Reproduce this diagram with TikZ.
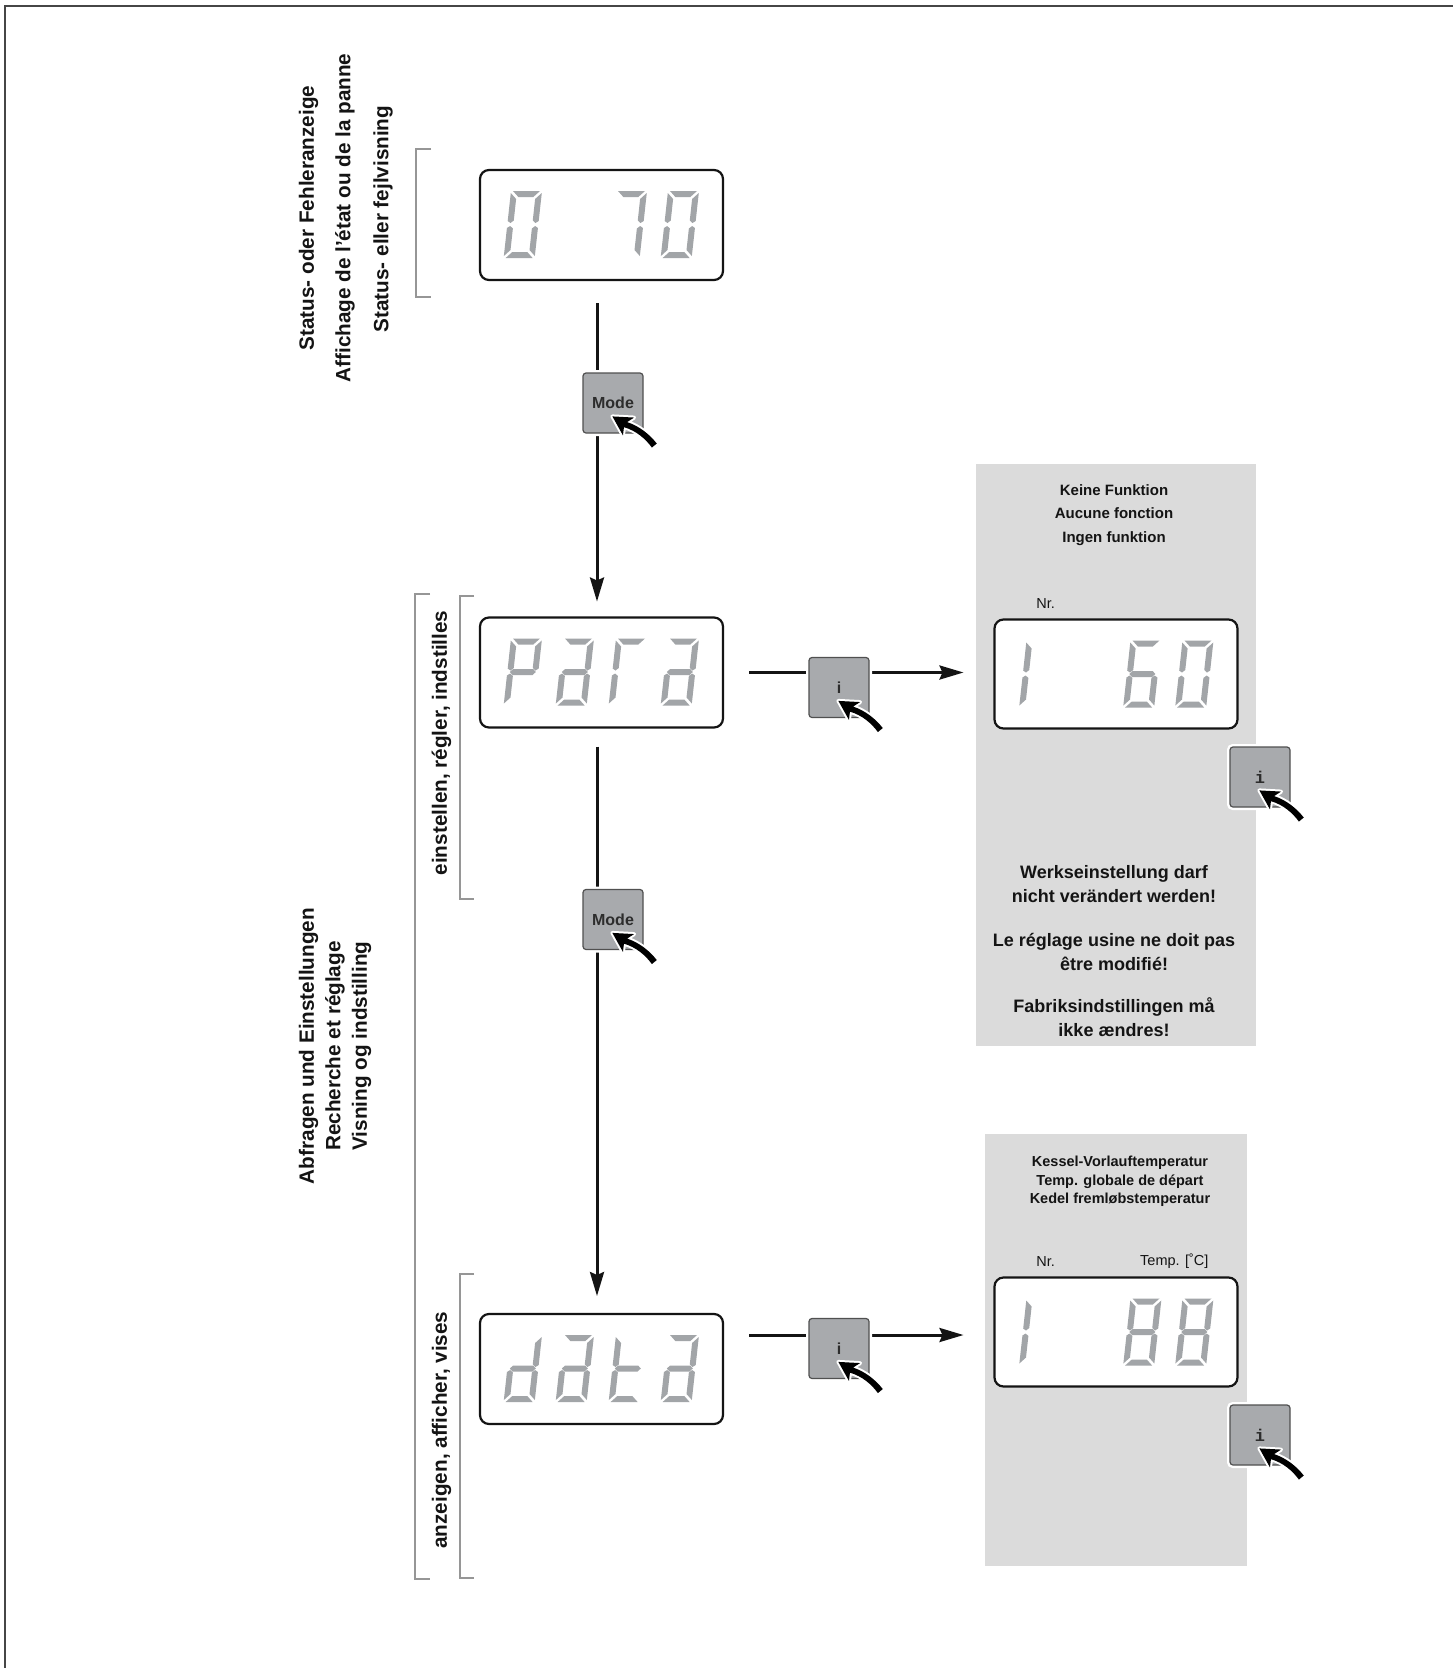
\documentclass[tikz,border=0pt]{standalone}
\usepackage{fontspec}
\setmainfont{Liberation Sans}
\setmonofont{Liberation Mono}
\usetikzlibrary{arrows.meta,calc}
\definecolor{segc}{RGB}{162,165,168}
\definecolor{btnc}{RGB}{168,170,173}
\definecolor{btnedge}{RGB}{80,80,80}
\definecolor{btntext}{RGB}{45,45,45}
\definecolor{panelc}{RGB}{219,219,219}
\definecolor{brk}{RGB}{150,150,150}
\definecolor{frm}{RGB}{70,70,70}
\definecolor{ink}{RGB}{20,20,20}

\newcommand{\sgA}{\fill[segc] (2,0) -- (29,0) -- (23,6) -- (8,6) -- cycle;}
\newcommand{\sgD}{\fill[segc] (2,67) -- (29,67) -- (23,61) -- (8,61) -- cycle;}
\newcommand{\sgG}{\fill[segc] (2.5,33.5) -- (5.5,30.5) -- (25.5,30.5) -- (28.5,33.5) -- (25.5,36.5) -- (5.5,36.5) -- cycle;}
\newcommand{\sgF}{\fill[segc] (0,2) -- (6,8) -- (6,29.5) -- (3,32) -- (0,30) -- cycle;}
\newcommand{\sgE}{\fill[segc] (0,65) -- (6,59) -- (6,37.5) -- (3,35) -- (0,37) -- cycle;}
\newcommand{\sgB}{\fill[segc] (31,2) -- (25,8) -- (25,29.5) -- (28,32) -- (31,30) -- cycle;}
\newcommand{\sgC}{\fill[segc] (31,65) -- (25,59) -- (25,37.5) -- (28,35) -- (31,37) -- cycle;}
\newcommand{\lcdigit}[3]{\begin{scope}[shift={($(#1.north west)+(#2,21)$)},xslant=0.11]\foreach \s in {#3}{\csname sg\s\endcsname}\end{scope}}
\newcommand{\cursor}[1]{\begin{scope}[shift={($(#1.north west)+(30,44)$)},rotate=-32]
\fill[black,preaction={draw=white,line width=4pt,line join=round}] (0,0) -- (19,-10.5) -- (15.5,-3) .. controls (28,-6) and (41,-4.5) .. (52,-0.5) -- (50,5.5) .. controls (40,1.5) and (28,-0.5) .. (15.5,3) -- (19,10.5) -- cycle;
\end{scope}}

\begin{document}
\begin{tikzpicture}[x=1pt,y=-1pt,
  lcd/.style={draw=ink,fill=white,line width=2.2pt,rounded corners=9pt,minimum width=243pt,minimum height=110pt,outer sep=0pt,inner sep=0pt},
  btn/.style={draw=btnedge,fill=btnc,line width=1.2pt,rounded corners=3pt,minimum width=60pt,minimum height=60pt,inner sep=0pt,text=btntext,font=\fontsize{16}{16}\selectfont\bfseries,preaction={draw=white,line width=6pt}},
  arr/.style={draw=ink,line width=3pt,-{Stealth[length=24pt,width=14pt,inset=3pt]}},
  rot/.style={rotate=90,inner sep=0pt,font=\fontsize{20.7}{24}\selectfont\bfseries,text=ink},
  brack/.style={draw=brk,line width=1.5pt},
  ptxt/.style={align=center,inner sep=0pt,text=ink},
  small/.style={inner sep=0pt,text=ink,font=\fontsize{14.5}{16}\selectfont}]
\useasboundingbox (0,0) rectangle (1453,1668);
\fill[white] (0,0) rectangle (1453,1668);
% frame
\draw[frm,line width=2pt] (1453,5.5) -- (4.5,5.5) -- (4.5,1668);
% gray panels
\fill[panelc] (976,464) rectangle (1256,1046);
\fill[panelc] (985,1134) rectangle (1247,1566);
% brackets
\draw[brack] (431,149) -- (416,149) -- (416,297) -- (431,297);
\draw[brack] (430,594) -- (415,594) -- (415,1579) -- (430,1579);
\draw[brack] (474,596) -- (460,596) -- (460,899) -- (474,899);
\draw[brack] (474,1274) -- (460,1274) -- (460,1578) -- (474,1578);
% rotated labels
\node[rot] (s1) at (308.5,218) {Status- oder Fehleranzeige};
\node[rot] (s2) at (345,218) {Affichage de l'état ou de la panne};
\node[rot] (s3) at (383,219) {Status- eller fejlvisning};
\node[rot] (g1) at (308.5,1046) {Abfragen und Einstellungen};
\node[rot] (g2) at (335,1046) {Recherche et réglage};
\node[rot] (g3) at (361.5,1046) {Visning og indstilling};
\node[rot] (e1) at (441.5,743) {einstellen, régler, indstilles};
\node[rot] (a1) at (441.5,1430) {anzeigen, afficher, vises};
% displays
\node[lcd] (lcd1) at (601.5,225) {};
\node[lcd] (lcd2) at (601.5,672.5) {};
\node[lcd] (lcd3) at (601.5,1369) {};
\node[lcd,minimum height=109pt] (lcdR1) at (1116,674) {};
\node[lcd,minimum height=109pt] (lcdR2) at (1116,1332) {};
% digits
\lcdigit{lcd1}{31}{A,B,C,D,E,F}
\lcdigit{lcd1}{136}{A,B,C}
\lcdigit{lcd1}{188}{A,B,C,D,E,F}
\lcdigit{lcd2}{31}{A,B,E,F,G}
\lcdigit{lcd2}{83}{A,B,C,D,E,G}
\lcdigit{lcd2}{136}{A,E,F}
\lcdigit{lcd2}{188}{A,B,C,D,E,G}
\lcdigit{lcd3}{31}{B,C,D,E,G}
\lcdigit{lcd3}{83}{A,B,C,D,E,G}
\lcdigit{lcd3}{136}{D,E,F,G}
\lcdigit{lcd3}{188}{A,B,C,D,E,G}
\lcdigit{lcdR1}{32}{E,F}
\lcdigit{lcdR1}{136}{A,C,D,E,F,G}
\lcdigit{lcdR1}{188}{A,B,C,D,E,F}
\lcdigit{lcdR2}{32}{E,F}
\lcdigit{lcdR2}{136}{A,B,C,D,E,F,G}
\lcdigit{lcdR2}{188}{A,B,C,D,E,F,G}
% connectors
\draw[arr,shorten <=23pt,shorten >=16pt] ([xshift=-4.5pt]lcd1.south) -- ([xshift=-4.5pt]lcd2.north);
\draw[arr,shorten <=19pt,shorten >=18pt] ([xshift=-4.5pt]lcd2.south) -- ([xshift=-4.5pt]lcd3.north);
\draw[arr,shorten <=26pt,shorten >=31pt] (lcd2.east) -- (lcd2.east -| lcdR1.west);
\draw[arr,shorten <=26pt,shorten >=31pt] ([yshift=-3pt]lcd3.east |- lcdR2.west) -- ([yshift=-3pt]lcdR2.west);
% buttons
\node[btn] (m1) at (613,403) {Mode};
\node[btn] (m2) at (613,919.5) {Mode};
\node[btn] (i1) at (839,687.5) {i};
\node[btn] (i2) at (839,1348.5) {i};
\node[btn,font=\fontsize{17}{17}\selectfont\ttfamily\bfseries] (i3) at (1260,777) {i};
\node[btn,font=\fontsize{17}{17}\selectfont\ttfamily\bfseries] (i4) at (1260,1435) {i};
\cursor{m1}\cursor{m2}\cursor{i1}\cursor{i2}\cursor{i3}\cursor{i4}
% panel texts
\node[ptxt,font=\fontsize{15}{23.3}\selectfont\bfseries] (p1) at (1114,515) {Keine Funktion\\Aucune fonction\\Ingen funktion};
\node[small] (nr1) at (1045.6,604) {Nr.};
\node[ptxt,font=\fontsize{18}{23.4}\selectfont\bfseries] (w1) at (1114,884) {Werkseinstellung darf\\nicht verändert werden!};
\node[ptxt,font=\fontsize{18}{23.4}\selectfont\bfseries] (w2) at (1114,952) {Le réglage usine ne doit pas\\être modifié!};
\node[ptxt,font=\fontsize{18}{23.4}\selectfont\bfseries] (w3) at (1114,1017) {Fabriksindstillingen må\\ikke ændres!};
\node[ptxt,font=\fontsize{14.5}{18.6}\selectfont\bfseries] (k1) at (1120,1181.5) {Kessel-Vorlauftemperatur\\Temp. globale de départ\\Kedel fremløbstemperatur};
\node[small] (nr2) at (1045.6,1261.6) {Nr.};
\node[small] (tp) at (1174.3,1261.6) {Temp. [˚C]};
\end{tikzpicture}
\end{document}
